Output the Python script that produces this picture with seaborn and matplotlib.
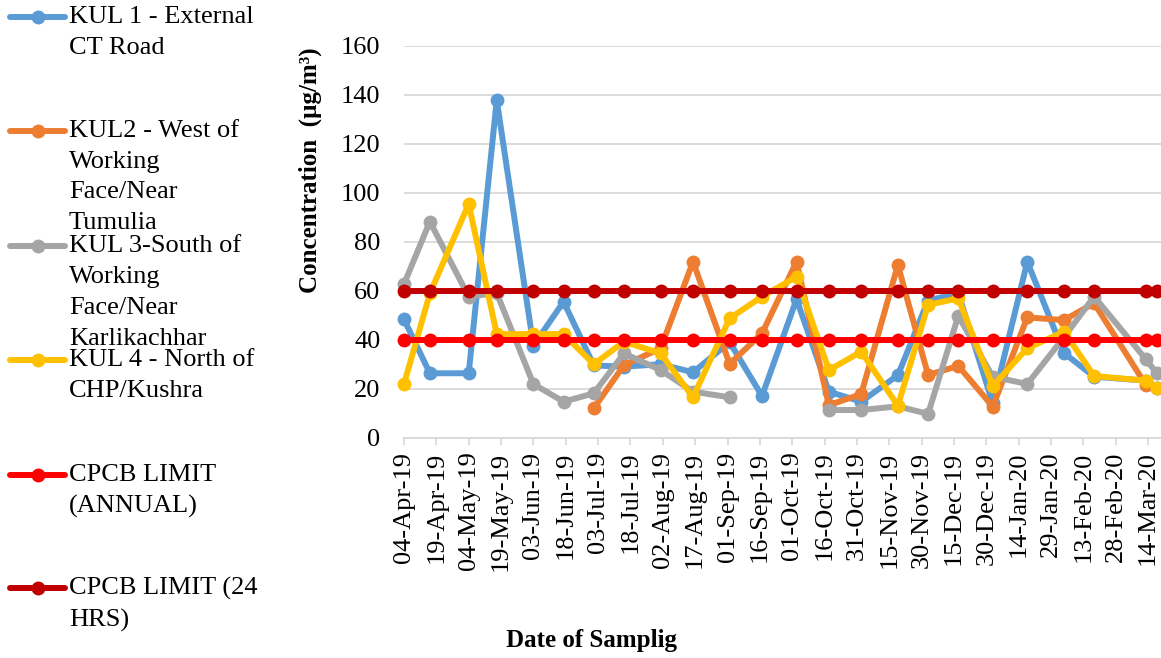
import numpy as np
import pandas as pd
import matplotlib
matplotlib.use("Agg")
import matplotlib.pyplot as plt
import seaborn as sns

# sampling dates and concentrations (ug/m3)
sample_dates = ["2019-04-04", "2019-04-16", "2019-05-04", "2019-05-17", "2019-06-03", "2019-06-17",
                "2019-07-01", "2019-07-15", "2019-08-01", "2019-08-16", "2019-09-02", "2019-09-17",
                "2019-10-03", "2019-10-18", "2019-11-02", "2019-11-19", "2019-12-03", "2019-12-17",
                "2020-01-02", "2020-01-18", "2020-02-04", "2020-02-18", "2020-03-13", "2020-03-18"]

kul1 = [48.3, 26.3, 26.3, 137.8, 37.6, 55.5, 29.5, 29.0, 30.0, 26.7, 39.0, 17.0,
        56.5, 18.8, 14.7, 25.5, 56.0, 59.0, 14.0, 71.8, 34.6, 24.9, 23.3, 20.2]
kul2 = [np.nan, np.nan, np.nan, np.nan, np.nan, np.nan, 12.0, 29.6, 36.5, 71.8, 30.1, 42.6,
        71.8, 13.3, 17.8, 70.5, 25.6, 29.3, 12.7, 49.1, 48.0, 54.9, 21.5, np.nan]
kul3 = [62.7, 88.2, 57.6, 59.0, 21.9, 14.7, 18.1, 34.4, 27.6, 18.8, 16.5, np.nan,
        np.nan, 11.3, 11.3, 12.8, 9.7, 49.7, 24.9, 21.9, 41.0, 57.6, 32.0, 26.3]
kul4 = [21.9, 58.9, 95.4, 42.3, 42.3, 42.3, 30.0, 39.2, 34.4, 16.5, 48.7, 57.6,
        65.7, 27.6, 35.1, 13.1, 54.2, 56.9, 21.1, 36.5, 43.3, 25.2, 23.3, 20.2]
cpcb_annual = [40] * 24
cpcb_24hr = [60] * 24

series_names = ["KUL 1 - External CT Road",
                "KUL2 - West of Working Face/Near Tumulia",
                "KUL 3-South of Working Face/Near Karlikachhar",
                "KUL 4 - North of CHP/Kushra",
                "CPCB LIMIT (ANNUAL)",
                "CPCB LIMIT (24 HRS)"]
legend_labels = ["KUL 1 - External\nCT Road",
                 "KUL2 - West of\nWorking\nFace/Near\nTumulia",
                 "KUL 3-South of\nWorking\nFace/Near\nKarlikachhar",
                 "KUL 4 - North of\nCHP/Kushra",
                 "CPCB LIMIT\n(ANNUAL)",
                 "CPCB LIMIT (24\nHRS)"]
colors = ["#5B9BD5", "#ED7D31", "#A5A5A5", "#FFC000", "#FF0000", "#C00000"]

yticks = [0, 20, 40, 60, 80, 100, 120, 140, 160]
tick_dates = pd.date_range("2019-04-04", "2020-03-14", freq="15D")

frames = []
for name, vals in zip(series_names, [kul1, kul2, kul3, kul4, cpcb_annual, cpcb_24hr]):
    d = pd.DataFrame({"date": pd.to_datetime(sample_dates), "value": vals, "series": name})
    d["seg"] = d["value"].isna().cumsum()  # break the line where a value is missing
    frames.append(d.dropna())
df = pd.concat(frames, ignore_index=True)

sns.set_style("white")
plt.rcParams["font.family"] = ["Liberation Serif", "DejaVu Serif"]
plt.rcParams.update({"text.color": "black", "axes.labelcolor": "black",
                     "xtick.labelcolor": "black", "ytick.labelcolor": "black"})

W, H = 1161, 658
fig = plt.figure(figsize=(W / 100, H / 100), dpi=100)
x0, x1, ytop, ybot = 404, 1161, 45.7, 437.7
ax = fig.add_axes([x0 / W, 1 - ybot / H, (x1 - x0) / W, (ybot - ytop) / H])

lw, ms = 4.3, 10
sns.lineplot(data=df, x="date", y="value", hue="series", hue_order=series_names,
             palette=colors, units="seg", estimator=None, marker="o", markersize=ms,
             markeredgewidth=0, linewidth=lw, legend=False, clip_on=False, ax=ax)

ax.set_ylim(0, 160)
ax.set_yticks(yticks)
ax.set_xlim(pd.Timestamp("2019-04-04"), pd.Timestamp("2020-03-20"))
ax.set_xticks(tick_dates)
ax.set_xticklabels([d.strftime("%d-%b-%y") for d in tick_dates], rotation=90, ha="center", va="top")
ax.yaxis.grid(True, color="#D9D9D9", linewidth=1.3)
ax.set_axisbelow(True)
for s in ["top", "right", "left"]:
    ax.spines[s].set_visible(False)
ax.spines["bottom"].set_color("#D9D9D9")
ax.spines["bottom"].set_linewidth(1.3)
ax.tick_params(axis="y", length=0, pad=17, labelsize=19, labelcolor="black")
ax.tick_params(axis="x", length=5, width=1.3, color="#D9D9D9", pad=5, labelsize=19,
               labelcolor="black", bottom=True)

ax.set_ylabel("Concentration  (\u00b5g/m\u00b3)", fontsize=18, fontweight="bold")
ax.yaxis.set_label_coords((310 - x0) / (x1 - x0), (ybot - 170) / (ybot - ytop))
ax.set_xlabel("Date of Samplig", fontsize=18, fontweight="bold")
ax.xaxis.set_label_coords((592 - x0) / (x1 - x0), -(640 - ybot) / (ybot - ytop))
ax.xaxis.label.set_va("center")
ax.yaxis.label.set_va("center")

# legend on the left, drawn in pixel coordinates
lg = fig.add_axes([0, 0, 1, 1], zorder=-1)
lg.set_xlim(0, W)
lg.set_ylim(H, 0)
lg.axis("off")
handle_y = [17.3, 130.7, 246, 360, 475, 588]
for y, lab, c in zip(handle_y, legend_labels, colors):
    lg.plot([10, 65], [y, y], color=c, linewidth=lw, solid_capstyle="round")
    lg.plot([38], [y], marker="o", color=c, markersize=ms, markeredgewidth=0)
    lg.text(69, y - 11, lab, fontsize=19, va="top", ha="left", linespacing=1.52, color="black")

fig.savefig("out.png", dpi=100)
